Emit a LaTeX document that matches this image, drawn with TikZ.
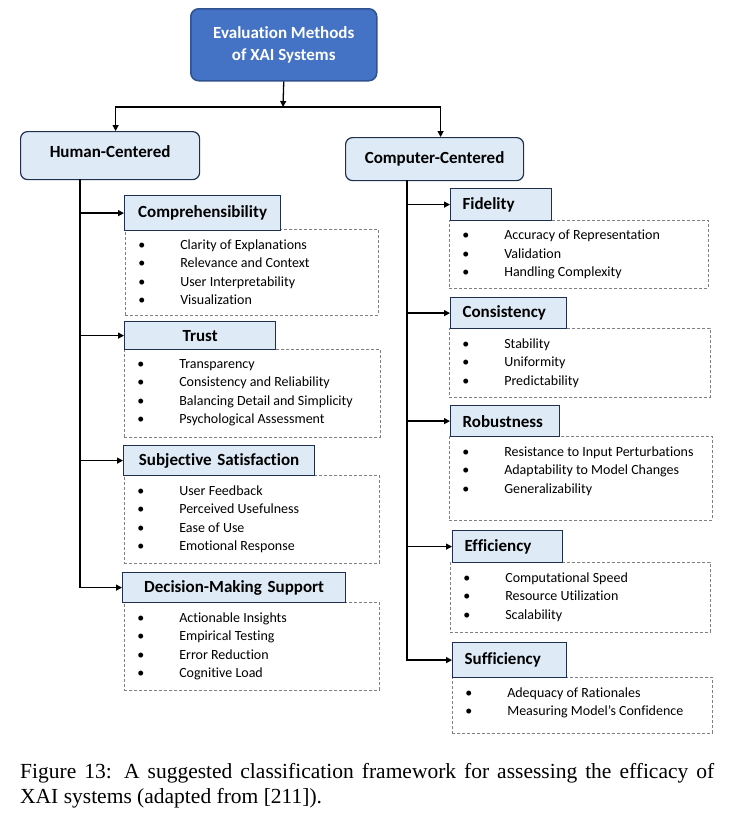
\documentclass[tikz,border=0pt]{standalone}
\usepackage{fontspec}
\setmainfont[Ligatures=NoCommon]{Carlito}
\newfontfamily\capfont{Liberation Serif}
\usetikzlibrary{arrows.meta}

\definecolor{topblue}{HTML}{4472C4}
\definecolor{topedge}{HTML}{2F528F}
\definecolor{paleblue}{HTML}{DEEBF7}
\definecolor{navy}{HTML}{1F2F4F}

% one bullet line and a block of them in a fixed-size box
\newcommand{\itm}[1]{\hspace*{13pt}\makebox[42pt][l]{\textbullet}#1\par}
\newcommand{\itemblock}[3]{\parbox[c][#2pt][t]{#1pt}{\fontsize{14}{18.5}\selectfont\vspace*{10pt}#3}}

\tikzset{
  topbox/.style={rounded corners=8pt, fill=topblue, draw=topedge, line width=1.5pt,
    text=white, font=\fontsize{17}{22}\selectfont\bfseries, align=center, anchor=north west},
  groupbox/.style={rounded corners=7pt, fill=paleblue, draw=navy, line width=1.2pt,
    font=\fontsize{17}{20}\selectfont\bfseries, anchor=north west},
  headbox/.style={fill=paleblue, draw=navy, line width=1.2pt, inner xsep=12pt,
    font=\fontsize{17}{20}\selectfont\bfseries, anchor=north west, align=center},
  headboxR/.style={headbox, align=left},
  itemlist/.style={draw=gray, densely dashed, line width=0.6pt, inner sep=0pt, anchor=north west},
  conn/.style={line width=1.3pt, -{Triangle[length=6pt,width=6pt]}}
}

\begin{document}
\begin{tikzpicture}[x=1pt, y=-1pt]
\useasboundingbox (0,0) rectangle (738,820);

% root and the two groups
\node[topbox, minimum width=186, minimum height=72] (top) at (190,8) {Evaluation Methods\\of XAI Systems};
\node[groupbox, minimum width=179, minimum height=48, text depth=8pt] (hc) at (20,131) {Human-Centered};
\node[groupbox, minimum width=178, minimum height=43] (cc) at (345,137) {Computer-Centered};

\coordinate (split) at (283,107);
\draw[conn] (top.south) -- (split);
\draw[conn] (split) -| ([xshift=5.5pt]hc.north);
\draw[conn] (split) -| ([xshift=6pt]cc.north);

% Human-centered lists
\node[itemlist] (compL) at (125,229) {\itemblock{253}{86}{\itm{Clarity of Explanations}\itm{Relevance and Context}\itm{User Interpretability}\itm{Visualization}}};
\node[itemlist] (trustL) at (124,349) {\itemblock{256}{88}{\itm{Transparency}\itm{Consistency and Reliability}\itm{Balancing Detail and Simplicity}\itm{Psychological Assessment}}};
\node[itemlist] (subjL) at (124,475) {\itemblock{255}{88}{\itm{User Feedback}\itm{Perceived Usefulness}\itm{Ease of Use}\itm{Emotional Response}}};
\node[itemlist] (dmsL) at (124,602) {\itemblock{255}{88}{\itm{Actionable Insights}\itm{Empirical Testing}\itm{Error Reduction}\itm{Cognitive Load}}};

\node[headbox, text width=132, minimum height=35] (comp) at (124,195) {Comprehensibility};
\node[headbox, text width=127, minimum height=28] (trust) at (124,321) {Trust};
\node[headbox, text width=167, minimum height=30] (subj) at (123,445) {Subjective Satisfaction};
\node[headbox, text width=199, minimum height=30] (dms) at (122,572) {Decision-Making Support};

% Computer-centered lists
\node[itemlist] (fidL) at (449,220) {\itemblock{259}{68}{\itm{Accuracy of Representation}\itm{Validation}\itm{Handling Complexity}}};
\node[itemlist] (consL) at (449,328) {\itemblock{261}{69}{\itm{Stability}\itm{Uniformity}\itm{Predictability}}};
\node[itemlist] (robL) at (449,436) {\itemblock{263}{84}{\itm{Resistance to Input Perturbations}\itm{Adaptability to Model Changes}\itm{Generalizability}}};
\node[itemlist] (effL) at (450,562) {\itemblock{260}{70}{\itm{Computational Speed}\itm{Resource Utilization}\itm{Scalability}}};
\node[itemlist] (sufL) at (452,677) {\itemblock{260}{56}{\itm{Adequacy of Rationales}\itm{Measuring Model’s Confidence}}};

\node[headboxR, text width=77, minimum height=32] (fid) at (450,188) {Fidelity};
\node[headboxR, text width=92, minimum height=31] (cons) at (450,297) {Consistency};
\node[headboxR, text width=85, minimum height=31] (rob) at (450,405) {Robustness};
\node[headboxR, text width=86, minimum height=32] (eff) at (452,530) {Efficiency};
\node[headboxR, text width=90, minimum height=35] (suf) at (452,642) {Sufficiency};

% trunks
\coordinate (hcT) at (80,179);
\coordinate (ccT) at (407,180);
\foreach \n in {comp,trust,subj,dms} \draw[conn] (hcT) |- (\n.west);
\foreach \n in {fid,cons,rob,eff,suf} \draw[conn] (ccT) |- (\n.west);

% caption
\node[anchor=north west, inner sep=0pt, align=left, font=\capfont\fontsize{21.5}{25}\selectfont] (cap) at (20,763)
  {\makebox[694pt][s]{Figure 13: A suggested classification framework for assessing the efficacy of}\\XAI systems (adapted from [211]).};
\end{tikzpicture}
\end{document}
